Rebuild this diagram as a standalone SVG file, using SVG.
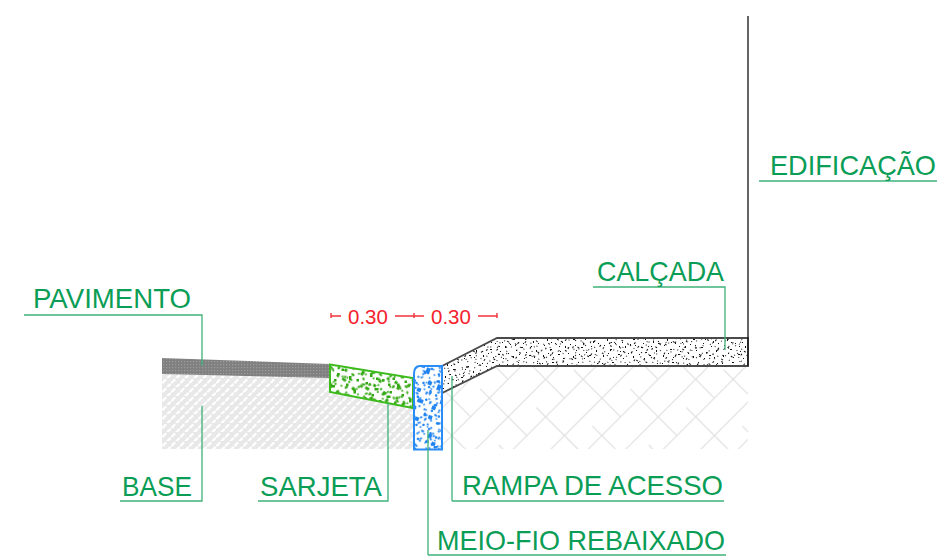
<svg xmlns="http://www.w3.org/2000/svg" width="943" height="560" viewBox="0 0 943 560">
<style>
.t{font-family:"Liberation Sans",Arial,sans-serif;font-size:27.4px;fill:#0a9d56}
.d{font-family:"Liberation Sans",Arial,sans-serif;font-size:20.5px;fill:#f5222d}
.l{fill:none;stroke:#3fb27a;stroke-width:1.3}
.r{fill:none;stroke:#f5333d;stroke-width:1.400}
</style>
<defs>
<pattern id="fine" width="9" height="9" patternUnits="userSpaceOnUse">
<rect width="9" height="9" fill="#e8e8e8"/>
<path d="M1 4.500L3.500 2M5.500 9L8 6.500" fill="none" stroke="#fff" stroke-width="2.400" stroke-linecap="round"/>
</pattern>
<pattern id="wide" x="480" y="388.700" width="150" height="150" patternUnits="userSpaceOnUse">
<path d="M0 18.750L18.750 0M0 56.250L56.250 0M0 93.750L93.750 0M0 131.250L131.250 0M18.750 150L150 18.750M56.250 150L150 56.250M93.750 150L150 93.750M131.250 150L150 131.250" fill="none" stroke="#e2e2e2" stroke-width="1.200"/>
<path d="M0 0l47 47M56.250 18.750l47 47M112.500 37.500l47 47M-37.500 37.500l47 47M18.750 56.250l47 47M75 75l47 47M131.250 93.750l47 47M-18.750 93.750l47 47M37.500 112.500l47 47M37.500 -37.500l47 47M93.750 131.250l47 47M93.750 -18.750l47 47" fill="none" stroke="#e2e2e2" stroke-width="1.200"/>
</pattern>
<pattern id="pave" width="3" height="3" patternUnits="userSpaceOnUse">
<rect width="3" height="3" fill="#808080"/><rect x="1" y="1" width="1.200" height="1.200" fill="#9c9c9c"/>
</pattern>
<path id="sp" d="M2 3h1v1h-1zM7 9h1v2h-1zM12 2h2v1h-2zM17 7h1v1h-1zM22 12h1v1h-1zM27 4h1v2h-1zM33 9h2v1h-2zM38 2h1v1h-1zM43 13h1v1h-1zM48 6h1v1h-1zM53 11h1v2h-1zM57 3h1v1h-1zM4 15h1v1h-1zM10 19h2v1h-2zM15 13h1v1h-1zM20 21h1v1h-1zM25 16h1v2h-1zM30 14h1v1h-1zM36 20h1v1h-1zM41 17h2v1h-2zM46 22h1v1h-1zM51 16h1v1h-1zM56 20h1v2h-1zM3 25h1v2h-1zM8 23h1v1h-1zM13 27h1v1h-1zM18 24h2v1h-2zM23 28h1v1h-1zM28 23h1v1h-1zM33 26h1v2h-1zM39 24h1v1h-1zM44 28h1v1h-1zM49 25h2v1h-2zM54 27h1v1h-1zM58 13h1v1h-1zM6 6h1v1h-1zM31 5h1v1h-1zM45 9h1v1h-1zM19 16h1v1h-1zM11 12h1v1h-1zM35 15h1v1h-1z"/>
<pattern id="b1" width="60" height="30" patternUnits="userSpaceOnUse"><use href="#sp" fill="#111"/></pattern>
<pattern id="b2" width="60" height="30" patternUnits="userSpaceOnUse" patternTransform="rotate(37)"><use href="#sp" fill="#111"/></pattern>
<pattern id="b3" width="60" height="30" patternUnits="userSpaceOnUse" patternTransform="rotate(-61)"><use href="#sp" fill="#111"/></pattern>
<pattern id="g1" width="60" height="30" patternUnits="userSpaceOnUse" patternTransform="scale(1.500)"><use href="#sp" fill="#35a815" stroke="#35a815" stroke-width="0.700"/></pattern>
<pattern id="g2" width="60" height="30" patternUnits="userSpaceOnUse" patternTransform="rotate(41) scale(1.300)"><use href="#sp" fill="#35a815" stroke="#35a815" stroke-width="0.700"/></pattern>
<pattern id="g3" width="60" height="30" patternUnits="userSpaceOnUse" patternTransform="rotate(-53) scale(1.700)"><use href="#sp" fill="#35a815" stroke="#35a815" stroke-width="0.700"/></pattern>
<pattern id="g4" width="60" height="30" patternUnits="userSpaceOnUse" patternTransform="rotate(77) scale(1.100)"><use href="#sp" fill="#35a815" stroke="#35a815" stroke-width="0.700"/></pattern>
<pattern id="u1" width="60" height="30" patternUnits="userSpaceOnUse" patternTransform="scale(1.400)"><use href="#sp" fill="#1e82f0" stroke="#1e82f0" stroke-width="0.700"/></pattern>
<pattern id="u2" width="60" height="30" patternUnits="userSpaceOnUse" patternTransform="rotate(33) scale(1.200)"><use href="#sp" fill="#1e82f0" stroke="#1e82f0" stroke-width="0.700"/></pattern>
<pattern id="u3" width="60" height="30" patternUnits="userSpaceOnUse" patternTransform="rotate(-70) scale(2)"><use href="#sp" fill="#1e82f0" stroke="#1e82f0" stroke-width="0.900"/></pattern>
<pattern id="u4" width="60" height="30" patternUnits="userSpaceOnUse" patternTransform="rotate(70) scale(1.100)"><use href="#sp" fill="#1e82f0" stroke="#1e82f0" stroke-width="0.500"/></pattern>
</defs>
<g id="base"><polygon points="162,374 330,378 330,392 414,408 414,449 162,449" fill="url(#fine)"/></g>
<g id="solo"><polygon points="442,393 497,366 748,366 748,449 442,449" fill="url(#wide)"/></g>
<g id="pavimento"><polygon points="162,358 330,364 330,378 162,374" fill="url(#pave)"/></g>
<g id="sarjeta">
<polygon points="330,364.500 413,378 413,408 330,392" fill="#fff"/>
<polygon points="330,364.500 413,378 413,408 330,392" fill="url(#g1)"/>
<polygon points="330,364.500 413,378 413,408 330,392" fill="url(#g2)"/>
<polygon points="330,364.500 413,378 413,408 330,392" fill="url(#g4)"/>
<polygon points="330,364.500 413,378 413,408 330,392" fill="url(#g3)" stroke="#3dbb1c" stroke-width="2"/>
</g>
<g id="calcada">
<polygon points="442,366 497,338 748,338 748,366 497,366 442,393" fill="url(#b1)"/>
<polygon points="442,366 497,338 748,338 748,366 497,366 442,393" fill="url(#b2)"/>
<polygon points="442,366 497,338 748,338 748,366 497,366 442,393" fill="url(#b3)" stroke="#4a4a4a" stroke-width="1.800"/>
</g>
<g id="meio-fio">
<path d="M414 374Q414 366 420 366H442V449.500H414Z" fill="#fff"/>
<path d="M414 374Q414 366 420 366H442V449.500H414Z" fill="url(#u1)"/>
<path d="M414 374Q414 366 420 366H442V449.500H414Z" fill="url(#u2)"/>
<path d="M414 374Q414 366 420 366H442V449.500H414Z" fill="url(#u4)"/>
<path d="M414 374Q414 366 420 366H442V449.500H414Z" fill="url(#u3)" stroke="#2b8cf5" stroke-width="2"/>
</g>
<g id="edificacao"><path d="M748 16V366" fill="none" stroke="#111" stroke-width="1.300"/></g>
<g id="connectors">
<path class="l" d="M24 315H202V366"/>
<path class="l" d="M120 501H202V406"/>
<path class="l" d="M258 501H388V403"/>
<path class="l" d="M452 501H724M452 501V376"/>
<path class="l" d="M428 555H726M428 555V430"/>
<path class="l" d="M593 287H725V350"/>
<path class="l" d="M759 181H937"/>
<path class="r" d="M331 313V318M331 316H341M395 316H414M414 313V318M414 316H424M478 316H497M497 313V318"/>
</g>
<g id="labels">
<text class="t" x="33" y="308" textLength="158" lengthAdjust="spacingAndGlyphs">PAVIMENTO</text>
<text class="t" x="122" y="496" textLength="70" lengthAdjust="spacingAndGlyphs">BASE</text>
<text class="t" x="260" y="496" textLength="122" lengthAdjust="spacingAndGlyphs">SARJETA</text>
<text class="t" x="462" y="495" textLength="261" lengthAdjust="spacingAndGlyphs">RAMPA DE ACESSO</text>
<text class="t" x="437" y="550" textLength="288" lengthAdjust="spacingAndGlyphs">MEIO-FIO REBAIXADO</text>
<text class="t" x="597" y="281" textLength="127" lengthAdjust="spacingAndGlyphs">CALÇADA</text>
<text class="t" x="770" y="175" textLength="166" lengthAdjust="spacingAndGlyphs">EDIFICAÇÃO</text>
<text class="d" x="348" y="324">0.30</text>
<text class="d" x="431" y="324">0.30</text>
</g>
</svg>
